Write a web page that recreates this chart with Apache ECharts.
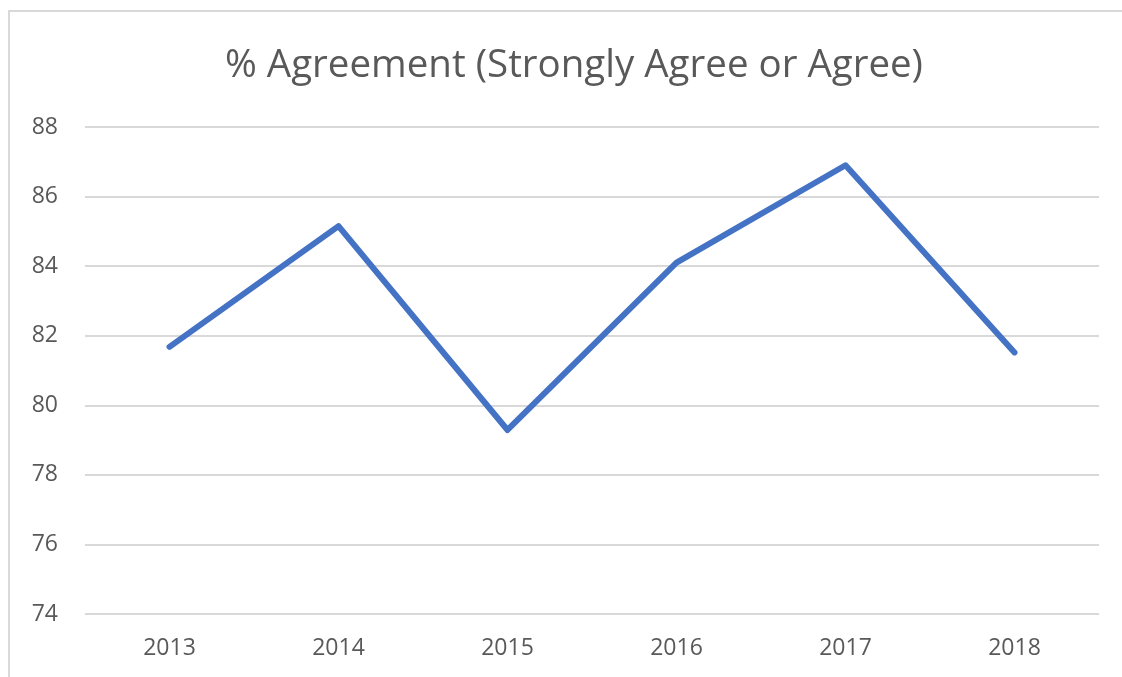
<!DOCTYPE html>
<html>
<head>
<meta charset="utf-8">
<script src="https://cdn.jsdelivr.net/npm/echarts@6/dist/echarts.min.js"></script>
<style>
html,body{margin:0;padding:0;background:#fff;}
#chart{width:1122px;height:677px;}
</style>
</head>
<body>
<div id="chart"></div>
<script>
const titleText = '% Agreement (Strongly Agree or Agree)';
const categories = ['2013', '2014', '2015', '2016', '2017', '2018'];
const agreement = [81.68, 85.15, 79.29, 84.1, 86.9, 81.52];
const yMin = 74, yMax = 88, yStep = 2;

const chart = echarts.init(document.getElementById('chart'), null, {renderer: 'canvas'});
chart.setOption({
  animation: false,
  backgroundColor: '#fff',
  graphic: [{
    type: 'rect',
    shape: {x: 9, y: 11, width: 1130, height: 700},
    style: {fill: 'none', stroke: '#d9d9d9', lineWidth: 2},
    silent: true
  }],
  title: {
    text: titleText,
    left: 569,
    textAlign: 'center',
    top: 42,
    textStyle: {color: '#595959', fontFamily: 'Open Sans', fontSize: 38.5, fontWeight: 'normal'}
  },
  grid: {left: 85, right: 23, top: 127, bottom: 63, containLabel: false},
  xAxis: {
    type: 'category',
    data: categories,
    boundaryGap: true,
    axisLine: {show: false},
    axisTick: {show: false},
    axisLabel: {color: '#595959', fontFamily: 'Open Sans', fontSize: 23, margin: 23}
  },
  yAxis: {
    type: 'value',
    min: yMin, max: yMax, interval: yStep,
    axisLine: {show: false},
    axisTick: {show: false},
    axisLabel: {color: '#595959', fontFamily: 'Open Sans', fontSize: 23, margin: 27},
    splitLine: {lineStyle: {color: '#d9d9d9', width: 2}}
  },
  series: [{
    type: 'line',
    data: agreement,
    symbol: 'none',
    lineStyle: {color: '#4472c4', width: 6, cap: 'round', join: 'round'}
  }]
});
</script>
</body>
</html>
